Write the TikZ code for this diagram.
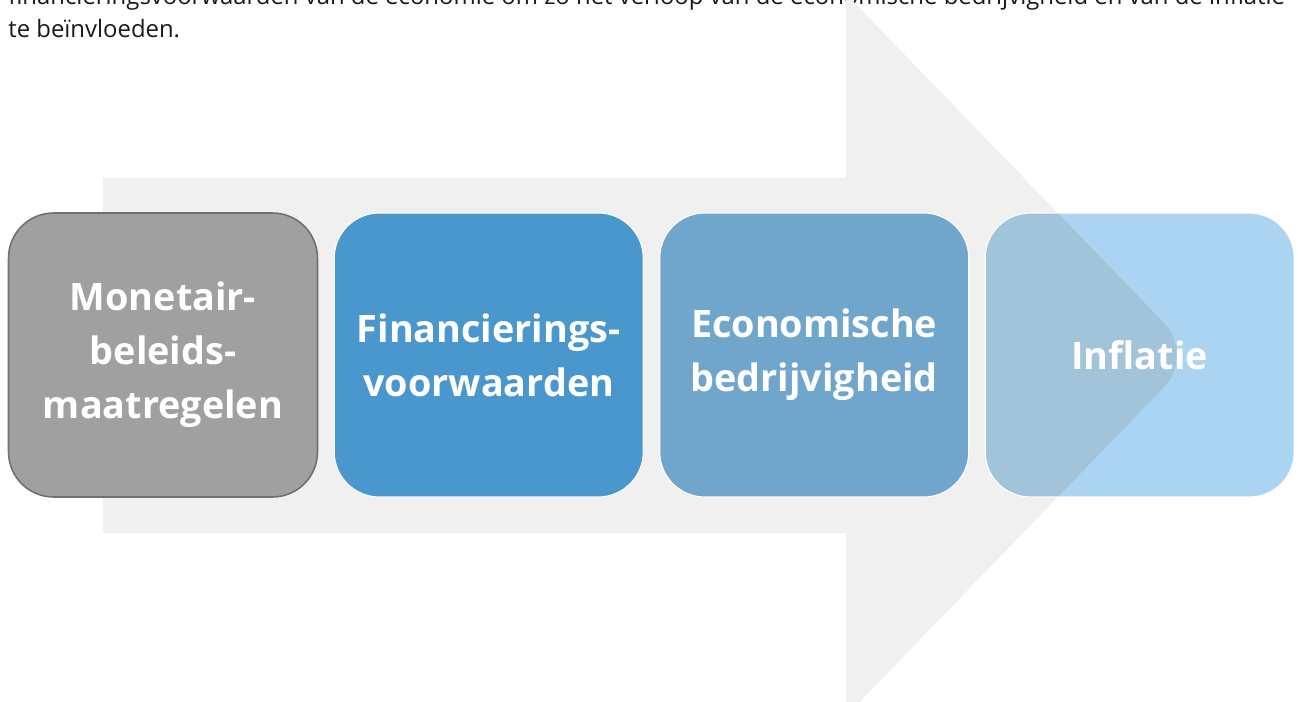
\documentclass[tikz,border=0pt]{standalone}
\usepackage{fontspec}
\setmainfont{Open Sans}
\usetikzlibrary{positioning}
\definecolor{arrowgrey}{RGB}{240,240,240}
\definecolor{policygrey}{RGB}{160,160,160}
\definecolor{policyedge}{RGB}{112,112,112}
\definecolor{financeblue}{RGB}{74,151,206}
\definecolor{economyblue}{RGB}{113,166,204}
\definecolor{inflationblue}{RGB}{171,211,242}
\definecolor{overlapblue}{RGB}{162,196,218}
\definecolor{bodytext}{RGB}{25,25,25}
\begin{document}
\begin{tikzpicture}[x=0.02cm, y=-0.02cm, node distance=0.31cm,
  box/.style = {rounded corners=0.9cm, minimum width=6.18cm, minimum height=5.68cm,
    align=center, text=white, draw=white, line width=0.6pt,
    font=\bfseries\fontsize{21.5}{30.7}\selectfont},
  bodyline/.style = {anchor=base west, inner sep=0pt, text=bodytext,
    font=\fontsize{13.6}{16}\selectfont}]

    \useasboundingbox (0,0) rectangle (1298,702);

    % text above the diagram, cut off at the top
    \node[bodyline] (line1) at (8,5) {financieringsvoorwaarden van de economie om zo het verloop van de economische bedrijvigheid en van de inflatie};
    \node[bodyline] (line2) at (8,38) {te beïnvloeden.};

    % big arrow behind the boxes
    \coordinate (tip) at (1195,355);
    \coordinate (headtop) at (846,-6);
    \coordinate (headbot) at (846,716);
    \fill[arrowgrey] (103,178) -- (846,178) -- (headtop) -- (tip) -- (headbot)
        -- (846,533) -- (103,533) -- cycle;

    \node[box, fill=policygrey, draw=policyedge, line width=0.9pt] (policy) at (163,355) {Monetair-\\beleids-\\maatregelen};
    \node[box, fill=financeblue] (finance) [right=of policy] {Financierings-\\voorwaarden};
    \node[box, fill=economyblue] (economy) [right=of finance] {Economische\\bedrijvigheid};
    \node[box, fill=inflationblue,
      path picture={\fill[overlapblue] (headtop) -- (tip) -- (headbot) -- cycle;}]
      (inflation) [right=of economy] {Inflatie};
\end{tikzpicture}
\end{document}
